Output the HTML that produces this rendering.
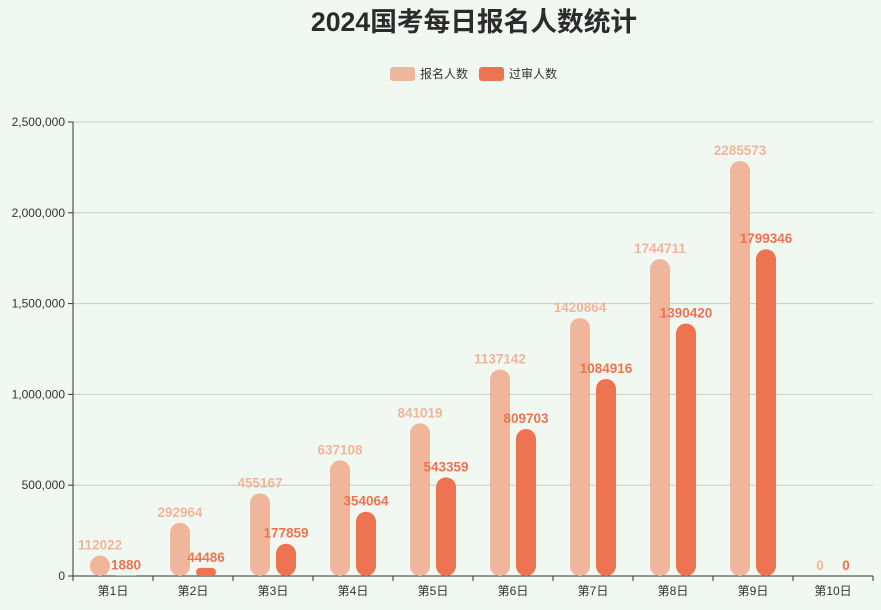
<!DOCTYPE html>
<html><head><meta charset="utf-8"><style>
html,body{margin:0;padding:0;background:#f1f8f1;}
svg{display:block;font-family:"Liberation Sans","Noto Sans CJK SC",sans-serif;}
</style></head><body>
<svg id="c" width="881" height="610" xmlns="http://www.w3.org/2000/svg">
<rect width="881" height="610" fill="#f1f8f1"/>
<text x="474" y="31" text-anchor="middle" font-size="26.7" font-weight="bold" fill="#2b2b2b">2024国考每日报名人数统计</text>
<rect x="390" y="67" width="25" height="14" rx="3" fill="#efb69b"/>
<text x="420" y="78" font-size="12" fill="#333">报名人数</text>
<rect x="479" y="67" width="25" height="14" rx="3" fill="#ee7350"/>
<text x="509" y="78" font-size="12" fill="#333">过审人数</text>
</svg>
<script>
var s=document.getElementById('c'),h='';
var L=[112022,292964,455167,637108,841019,1137142,1420864,1744711,2285573,0];
var D=[1880,44486,177859,354064,543359,809703,1084916,1390420,1799346,0];
function Y(v){return 576-v*454/2500000;}
for(var i=0;i<=5;i++){var v=i*500000,y=Y(v);
 if(i>0)h+='<line x1="73" x2="873" y1="'+y+'" y2="'+y+'" stroke="#c4cdc4" stroke-width="1"/>';
 h+='<line x1="68" x2="73" y1="'+y+'" y2="'+y+'" stroke="#333"/>';
 h+='<text x="65" y="'+(y+4)+'" text-anchor="end" font-size="12" fill="#333">'+v.toLocaleString('en-US')+'</text>';}
h+='<line x1="73" x2="73" y1="122" y2="576" stroke="#333"/>';
h+='<line x1="73" x2="873" y1="576" y2="576" stroke="#333"/>';
for(var i=0;i<=10;i++){var x=73+i*80;h+='<line x1="'+x+'" x2="'+x+'" y1="576" y2="581" stroke="#333"/>';}
for(var i=0;i<10;i++){var cx=113+i*80;
 h+='<text x="'+cx+'" y="595" text-anchor="middle" font-size="12" fill="#333">第'+(i+1)+'日</text>';
 [[L[i],cx-13,'#efb69b'],[D[i],cx+13,'#ee7350']].forEach(function(b){
  var hh=576-Y(b[0]),r=Math.min(10,hh/2);
  if(hh>0)h+='<rect x="'+(b[1]-10)+'" y="'+Y(b[0])+'" width="20" height="'+hh+'" rx="'+r+'" ry="'+r+'" fill="'+b[2]+'"/>';
  h+='<text x="'+b[1]+'" y="'+(Y(b[0])-6)+'" text-anchor="middle" font-size="13.5" font-weight="bold" fill="'+b[2]+'">'+b[0]+'</text>';
 });}
s.insertAdjacentHTML('beforeend',h);
</script>
</body></html>
